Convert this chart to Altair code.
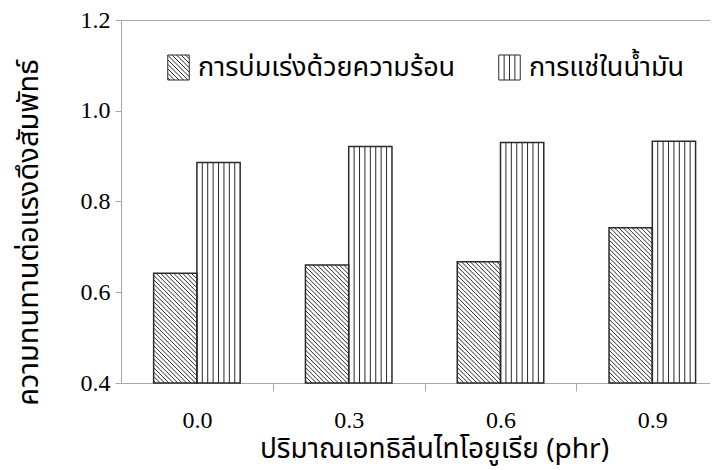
import altair as alt
import pandas as pd

# ---------------- data ----------------
categories = ["0.0", "0.3", "0.6", "0.9"]
series = ["การบ่มเร่งด้วยความร้อน", "การแช่ในน้ำมัน"]
heat_values = [0.642, 0.660, 0.667, 0.742]
oil_values = [0.886, 0.921, 0.930, 0.933]
y_ticks = [0.4, 0.6, 0.8, 1.0, 1.2]

x_title = "ปริมาณเอทธิลีนไทโอยูเรีย (phr)"
y_title = "ความทนทานต่อแรงดึงสัมพัทธ์"

# ---------------- layout ----------------
W, H = 589, 363
Y0, Y1 = 0.4, 1.2
X_MAX = 3.88          # visible part of the category axis (figure is cropped on the right)
BAR_W = 0.285
px_x = W / X_MAX
px_y = H / (Y1 - Y0)
DIAG_SP = 4.4         # hatch spacing in px
VERT_N = 8            # cells of vertical stripes
THAI = "Noto Sans Thai, Noto Sans Thai Looped, Tahoma, Noto Sans, sans-serif"
SERIF = "Liberation Serif, Times New Roman, serif"
INK = "#2b2b2b"
AXC = "#a8a8a8"

rows = []
for i, cat in enumerate(categories):
    rows.append(dict(cat=cat, series=series[0], value=heat_values[i], x0=i + 0.5 - BAR_W, x1=i + 0.5))
    rows.append(dict(cat=cat, series=series[1], value=oil_values[i], x0=i + 0.5, x1=i + 0.5 + BAR_W))
bars = pd.DataFrame(rows)
bars["base"] = Y0
bars["ymid"] = (bars["value"] + Y0) / 2
bars["xmid"] = (bars["x0"] + bars["x1"]) / 2

# hatch segments derived from the bars
segs = []
for r in bars.itertuples():
    u0, u1 = r.x0 * px_x, r.x1 * px_x
    vt = (r.value - Y0) * px_y
    if r.series == series[0]:
        c = u0 + DIAG_SP / 2
        while c < u1 + vt:
            ua = max(u0, c - vt)
            ub = min(u1, c)
            if ub > ua:
                segs.append(dict(x=ua / px_x, y=Y0 + (c - ua) / px_y,
                                 x2=ub / px_x, y2=Y0 + (c - ub) / px_y))
            c += DIAG_SP
    else:
        for k in range(1, VERT_N):
            u = u0 + k * (u1 - u0) / VERT_N
            segs.append(dict(x=u / px_x, y=Y0, x2=u / px_x, y2=r.value))
hatch = pd.DataFrame(segs)

# legend swatch paths (unit square -1..1)
SW = 0.86
def diag_path(sp=0.36):
    p = f"M{-SW},-1H{SW}V1H{-SW}Z"
    c = -SW - 1 + sp / 2
    while c < SW + 1:
        xa = max(-SW, -1 + c)
        xb = min(SW, 1 + c)
        if xb > xa:
            p += f"M{xa:.3f},{xa - c:.3f}L{xb:.3f},{xb - c:.3f}"
        c += sp
    return p

def vert_path(n=4):
    p = f"M{-SW},-1H{SW}V1H{-SW}Z"
    for k in range(1, n):
        x = -SW + k * 2 * SW / n
        p += f"M{x:.3f},-1V1"
    return p

xscale = alt.Scale(domain=[0, X_MAX], nice=False, zero=False)
yscale = alt.Scale(domain=[Y0, Y1], nice=False, zero=False)

x_values = [i + 0.5 for i in range(len(categories))] + [i for i in range(1, len(categories))]
lab_arr = "[" + ",".join(f"'{c}'" for c in categories) + "]"
x_axis = alt.Axis(
    values=x_values,
    labelExpr=f"datum.value % 1 == 0 ? '' : {lab_arr}[floor(datum.value)]",
    tickOpacity={"condition": {"test": "datum.value % 1 == 0", "value": 1}, "value": 0},
    tickSize=8, tickColor=AXC, tickWidth=1, domainColor=AXC, labelFont=SERIF, labelFontSize=24,
    labelColor="black", labelPadding=17, labelFlush=False, labelOverlap=False, grid=False,
    title=x_title, titleFont=THAI, titleFontSize=28, titleFontWeight="normal", titleColor="black",
    titleX=313, titleY=74, titleBaseline="alphabetic", titleAlign="center",
)
y_axis = alt.Axis(
    values=y_ticks, format=".1f", tickSize=6, tickColor=AXC, domainColor=AXC,
    labelFont=SERIF, labelFontSize=24, labelColor="black", labelPadding=5, grid=False,
    title=y_title, titleFont=THAI, titleFontSize=29, titleFontWeight="normal", titleColor="black",
    titleX=-93, titleY=212, titleAngle=-90, titleBaseline="middle", titleAlign="center",
)
top_axis = alt.Axis(orient="top", labels=False, ticks=False, domain=True, domainColor=AXC,
                    title=None, grid=False)

legend_pts = alt.Chart(bars).mark_point(
    filled=False, color=INK, strokeWidth=1, opacity=1
).encode(
    x=alt.X("xmid:Q", scale=xscale, axis=top_axis),
    y=alt.Y("ymid:Q", scale=yscale, axis=None),
    shape=alt.Shape("series:N", scale=alt.Scale(domain=series, range=[diag_path(), vert_path()]),
                    legend=alt.Legend(
                        title=None, orient="none", legendX=44, legendY=34, direction="horizontal",
                        symbolSize=625, symbolStrokeWidth=1, symbolStrokeColor=INK,
                        symbolOpacity=1, labelFont=THAI, labelFontSize=27, labelLimit=0,
                        labelColor="black", labelOffset=6, columnPadding=40, padding=0,
                    )),
    size=alt.value(625),
)

fill_rects = alt.Chart(bars).mark_rect(fill="white").encode(
    x=alt.X("x0:Q", scale=xscale, axis=x_axis),
    x2="x1:Q",
    y=alt.Y("value:Q", scale=yscale, axis=y_axis),
    y2="base:Q",
)

hatch_rules = alt.Chart(hatch).mark_rule(color=INK, strokeWidth=1).encode(
    x=alt.X("x:Q", scale=xscale, axis=None),
    x2="x2:Q",
    y=alt.Y("y:Q", scale=yscale, axis=None),
    y2="y2:Q",
)

outline = alt.Chart(bars).mark_rect(fillOpacity=0, stroke=INK, strokeWidth=1.5).encode(
    x=alt.X("x0:Q", scale=xscale, axis=None),
    x2="x1:Q",
    y=alt.Y("value:Q", scale=yscale, axis=None),
    y2="base:Q",
)

chart = alt.layer(legend_pts, fill_rects, hatch_rules, outline).resolve_axis(
    x="independent", y="independent"
).properties(
    width=W, height=H,
    padding={"left": 113, "top": 12, "right": 0, "bottom": 87},
    autosize=alt.AutoSizeParams(type="none"),
).configure_view(stroke=None).configure(background="white")

chart.save("out.html", embed_options={"renderer": "svg", "actions": False})
